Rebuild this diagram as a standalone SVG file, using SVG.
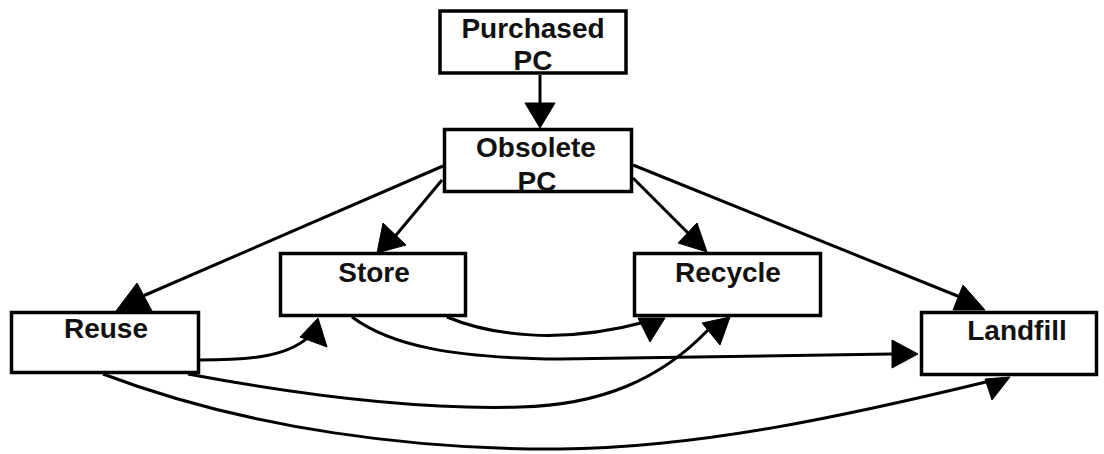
<svg xmlns="http://www.w3.org/2000/svg" width="1104" height="454" viewBox="0 0 1104 454">
<style>
.box{fill:#fff;stroke:#000;stroke-width:3.5}
.lbl{font-family:"Liberation Sans",Arial,sans-serif;font-weight:bold;font-size:28px;text-anchor:middle;fill:#111}
.edge{fill:none;stroke:#000;stroke-width:3}
.head{fill:#000;stroke:#000;stroke-width:1;stroke-linejoin:round}
</style>
<rect width="1104" height="454" fill="#fff"/>
<g id="connectors">
<path class="edge" d="M540,75 L540,105"/>
<polygon class="head" points="525,103 555,103 540,128"/>
<path class="edge" d="M443,166 L143,296"/>
<polygon class="head" points="137,283 116,311 152,311"/>
<path class="edge" d="M442,180 L392,240"/>
<polygon class="head" points="383,223 377,253 406,245"/>
<path class="edge" d="M633,178 L690,235"/>
<polygon class="head" points="697,223 678,243 707,252"/>
<path class="edge" d="M633,165 L960,297"/>
<polygon class="head" points="963,285 953,310 985,310"/>
<path class="edge" d="M200,360 C255,360 290,356 312,334"/>
<polygon class="head" points="318,318 300,337 327,347"/>
<path class="edge" d="M447,317 C490,335 560,345 645,322"/>
<polygon class="head" points="638,318 665,318 650,342"/>
<path class="edge" d="M352,317 C390,345 450,358 560,359 L892,354"/>
<polygon class="head" points="892,340 892,368 918,354"/>
<path class="edge" d="M188,374 C300,395 420,410 520,407 C600,405 660,380 708,330"/>
<polygon class="head" points="702,323 730,317 720,345"/>
<path class="edge" d="M103,374 C250,430 420,450 560,449 C700,448 850,415 990,381"/>
<polygon class="head" points="985,379 1010,377 992,400"/>
</g>
<g id="purchased">
<rect class="box" x="440" y="11" width="186" height="62"/>
<text class="lbl" x="533" y="38">Purchased</text>
<text class="lbl" x="533" y="70">PC</text>
</g>
<g id="obsolete">
<rect class="box" x="444.5" y="129.5" width="187" height="62"/>
<text class="lbl" x="536" y="157">Obsolete</text>
<text class="lbl" x="537" y="191">PC</text>
</g>
<g id="store">
<rect class="box" x="280.5" y="253.5" width="185" height="62"/>
<text class="lbl" x="374" y="282">Store</text>
</g>
<g id="reuse">
<rect class="box" x="11.5" y="312.5" width="187" height="60"/>
<text class="lbl" x="106" y="338">Reuse</text>
</g>
<g id="recycle">
<rect class="box" x="634.5" y="253.5" width="186" height="62"/>
<text class="lbl" x="728" y="282">Recycle</text>
</g>
<g id="landfill">
<rect class="box" x="921.5" y="312.5" width="175" height="62"/>
<text class="lbl" x="1017" y="340">Landfill</text>
</g>
</svg>
